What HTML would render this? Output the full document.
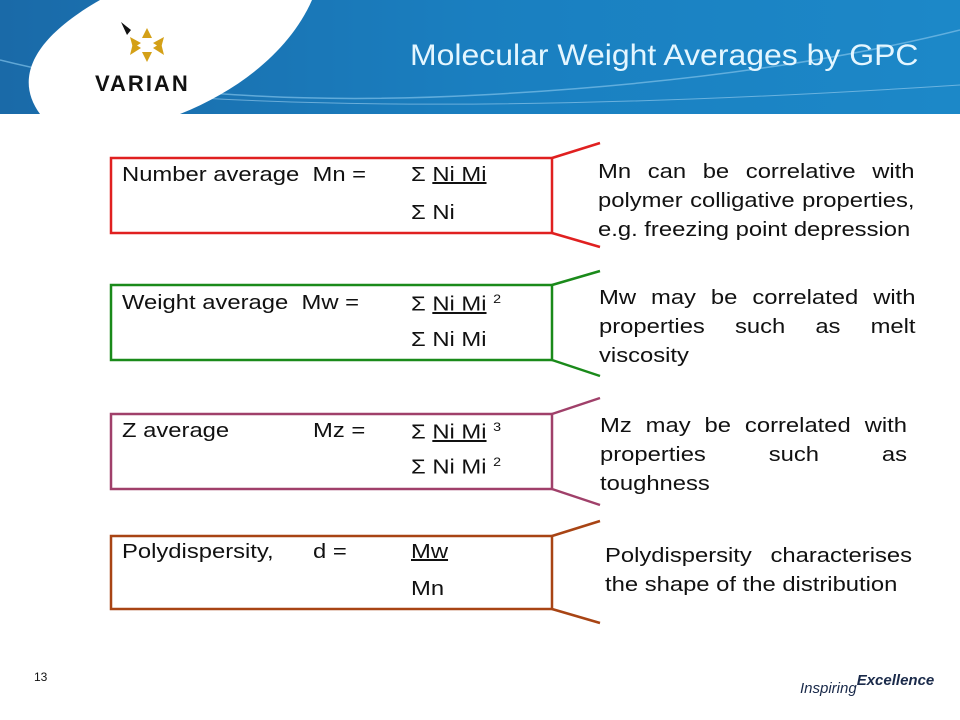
<!DOCTYPE html>
<html><head><meta charset="utf-8"><style>
body{margin:0;width:960px;height:720px;overflow:hidden;background:#fff;font-family:"Liberation Sans",Arial,sans-serif;position:relative}
.t{position:absolute;font-size:20px;color:#111;white-space:nowrap;transform:scaleX(1.19);transform-origin:0 0}
.u{text-decoration:underline}
.j{position:absolute;font-size:20px;line-height:29px;color:#111;transform:scaleX(1.19);transform-origin:0 0}
.j div{text-align:justify;text-align-last:justify;white-space:nowrap;height:29px}
.j div.l{text-align-last:left}
</style></head><body>
<svg style="position:absolute;left:0;top:0" width="960" height="720">
<defs><linearGradient id="g" x1="0" y1="0" x2="1" y2="0"><stop offset="0" stop-color="#1a6aa8"/><stop offset="0.5" stop-color="#1a7fc0"/><stop offset="1" stop-color="#1c88c8"/></linearGradient></defs>
<rect x="0" y="0" width="960" height="114" fill="url(#g)"/>
<path d="M0,60 Q200,110 480,95 T960,30" stroke="#7fc0e8" stroke-width="1.5" fill="none" opacity="0.7"/>
<path d="M200,98 Q500,115 960,85" stroke="#9fd0f0" stroke-width="1" fill="none" opacity="0.6"/>
<path d="M40,114 C15,80 30,40 100,0 L312,0 C290,50 240,90 180,114 Z" fill="#fff"/>
<g fill="#d4a017">
<polygon points="147,28 152,38 142,38"/><polygon points="147,62 152,52 142,52"/>
<polygon points="130,37 141,43 133,48"/><polygon points="164,37 153,43 161,48"/>
<polygon points="130,55 141,48 133,43"/><polygon points="164,55 153,48 161,43"/>
</g>
<polygon points="121,22 131,30 127,35" fill="#111"/>
<text x="95" y="91" font-family="Liberation Sans" font-weight="bold" font-size="22" fill="#111" letter-spacing="2">VARIAN</text>
<g stroke-width="2.5" fill="none">
<rect x="111" y="158" width="441" height="75" stroke="#e02020"/>
<polyline points="600,143 552,158" stroke="#e02020"/><polyline points="600,247 552,233" stroke="#e02020"/>
<rect x="111" y="285" width="441" height="75" stroke="#1a8a1a"/>
<polyline points="600,271 552,285" stroke="#1a8a1a"/><polyline points="600,376 552,360" stroke="#1a8a1a"/>
<rect x="111" y="414" width="441" height="75" stroke="#a0406a"/>
<polyline points="600,398 552,414" stroke="#a0406a"/><polyline points="600,505 552,489" stroke="#a0406a"/>
<rect x="111" y="536" width="441" height="73" stroke="#a84414"/>
<polyline points="600,521 552,536" stroke="#a84414"/><polyline points="600,623 552,609" stroke="#a84414"/>
</g>
</svg>
<div class="t" style="left:410px;top:39px;font-size:30px;transform:scaleX(1.065);color:#e4f6ff">Molecular Weight Averages by GPC</div>

<div class="t" style="left:122px;top:164px">Number average&nbsp; Mn =</div>
<div class="t" style="left:411px;top:164px">&Sigma; <span class="u">Ni Mi</span></div>
<div class="t" style="left:411px;top:202px">&Sigma; Ni</div>

<div class="t" style="left:122px;top:292px">Weight average&nbsp; Mw =</div>
<div class="t" style="left:411px;top:292px">&Sigma; <span class="u">Ni Mi</span> <sup style="font-size:12px">2</sup></div>
<div class="t" style="left:411px;top:329px">&Sigma; Ni Mi</div>

<div class="t" style="left:122px;top:420px">Z average</div>
<div class="t" style="left:313px;top:420px">Mz =</div>
<div class="t" style="left:411px;top:420px">&Sigma; <span class="u">Ni Mi</span> <sup style="font-size:12px">3</sup></div>
<div class="t" style="left:411px;top:455px">&Sigma; Ni Mi <sup style="font-size:12px">2</sup></div>

<div class="t" style="left:122px;top:541px">Polydispersity,</div>
<div class="t" style="left:313px;top:541px">d =</div>
<div class="t" style="left:411px;top:541px"><span class="u">Mw</span></div>
<div class="t" style="left:411px;top:578px">Mn</div>

<div class="j" style="left:598px;top:158px;width:266px"><div>Mn can be correlative with</div><div>polymer colligative properties,</div><div class="l">e.g. freezing point depression</div></div>
<div class="j" style="left:599px;top:284px;width:266px"><div>Mw may be correlated with</div><div>properties such as melt</div><div class="l">viscosity</div></div>
<div class="j" style="left:600px;top:412px;width:258px"><div>Mz may be correlated with</div><div>properties such as</div><div class="l">toughness</div></div>
<div class="j" style="left:605px;top:542px;width:258px"><div>Polydispersity characterises</div><div class="l">the shape of the distribution</div></div>

<div class="t" style="left:34px;top:670px;font-size:12px;transform:none">13</div>
<div class="t" style="left:800px;top:680px;font-size:15px;font-style:italic;color:#1a2a4a;transform:none">Inspiring<span style="font-weight:bold;position:relative;top:-8px;">Excellence</span></div>
</body></html>
